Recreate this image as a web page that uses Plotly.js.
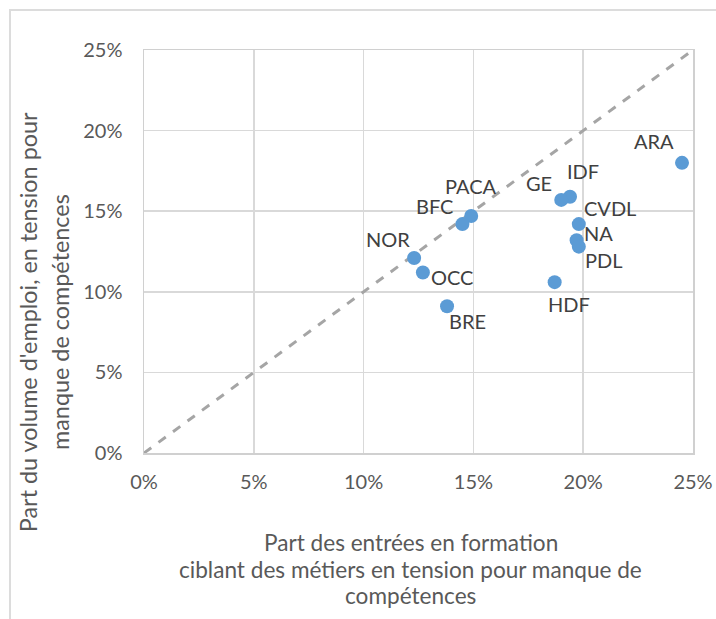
<!DOCTYPE html>
<html>
<head>
<meta charset="utf-8">
<script src="https://cdn.plot.ly/plotly-3.0.1.min.js"></script>
<style>
  body { margin: 0; background: #fff; }
  #chart { width: 716px; height: 619px; position: absolute; left: 0; top: 0; }
  #frame { position: absolute; left: 9px; top: 9px; width: 720px; height: 620px;
           border-top: 2px solid #dcdcdc; border-left: 2px solid #dcdcdc; pointer-events: none; }
</style>
</head>
<body>
<div id="chart"></div>
<div id="frame"></div>
<script>
// regions and their shares (fractions)
const regions = ['ARA', 'IDF', 'GE', 'CVDL', 'NA', 'PDL', 'HDF', 'PACA', 'BFC', 'NOR', 'OCC', 'BRE'];
const formation = [0.245, 0.194, 0.190, 0.198, 0.197, 0.198, 0.187, 0.149, 0.145, 0.123, 0.127, 0.138];
const emploi = [0.180, 0.159, 0.157, 0.142, 0.132, 0.128, 0.106, 0.147, 0.142, 0.121, 0.112, 0.091];
const diagonal = [0, 0.25];
const xTitleLines = ['Part des entrées en formation', 'ciblant des métiers en tension pour manque de', 'compétences'];
const yTitleLines = ['Part du volume d\'emploi, en tension pour', 'manque de compétences'];

// label offsets in px (x right, y up)
const labelShift = {
    ARA: [-28, 22], IDF: [13, 26], GE: [-22, 17], CVDL: [31, 16],
    NA: [22, 7], PDL: [25, -13], HDF: [14, -22], PACA: [0, 30],
    BFC: [-28, 18], NOR: [-26, 19], OCC: [29, -5], BRE: [20, -15]
};

const font = 'Lato, "Open Sans", sans-serif';

const diag = {
    x: diagonal,
    y: diagonal,
    mode: 'lines',
    type: 'scatter',
    line: { color: '#a5a5a5', width: 3, dash: 'dash' },
    hoverinfo: 'skip'
};

const points = {
    x: formation,
    y: emploi,
    text: regions,
    mode: 'markers',
    type: 'scatter',
    marker: { color: '#5b9bd5', size: 14 }
};

const annotations = regions.map((r, i) => ({
    x: formation[i],
    y: emploi[i],
    text: r,
    showarrow: false,
    xshift: labelShift[r][0],
    yshift: labelShift[r][1],
    font: { family: font, size: 20, color: '#404040' }
}));

// x title, one annotation per line
xTitleLines.forEach((t, i) => {
    annotations.push({
        xref: 'paper', yref: 'paper',
        x: 0.486, y: -0.223,
        xanchor: 'center', yanchor: 'middle',
        yshift: -i * 26.5,
        text: t,
        showarrow: false,
        font: { family: font, size: 22.6, color: '#595959' }
    });
});

// y title, rotated, one annotation per line
const yTitleX = [-0.211, -0.153];
yTitleLines.forEach((t, i) => {
    annotations.push({
        xref: 'paper', yref: 'paper',
        x: yTitleX[i], y: 0.325,
        xanchor: 'center', yanchor: 'middle',
        textangle: -90,
        text: t,
        showarrow: false,
        font: { family: font, size: 23.4, color: '#595959' }
    });
});

const axisStyle = {
    range: [0, 0.25],
    dtick: 0.05,
    tickformat: '.0%',
    showgrid: true,
    gridcolor: '#d9d9d9',
    gridwidth: 1.5,
    zeroline: false,
    showline: true,
    mirror: true,
    linecolor: '#d0d0d0',
    linewidth: 1.5,
    ticks: '',
    tickfont: { family: font, size: 20, color: '#595959' },
    fixedrange: true
};

const layout = {
    width: 716,
    height: 619,
    margin: { l: 144, r: 23, t: 50, b: 166 },
    showlegend: false,
    plot_bgcolor: '#fff',
    paper_bgcolor: '#fff',
    xaxis: Object.assign({}, axisStyle, { ticklabelstandoff: 10 }),
    yaxis: Object.assign({}, axisStyle, { ticklabelstandoff: 16 }),
    annotations: annotations
};

Plotly.newPlot('chart', [diag, points], layout, { displayModeBar: false, staticPlot: true });
</script>
</body>
</html>
